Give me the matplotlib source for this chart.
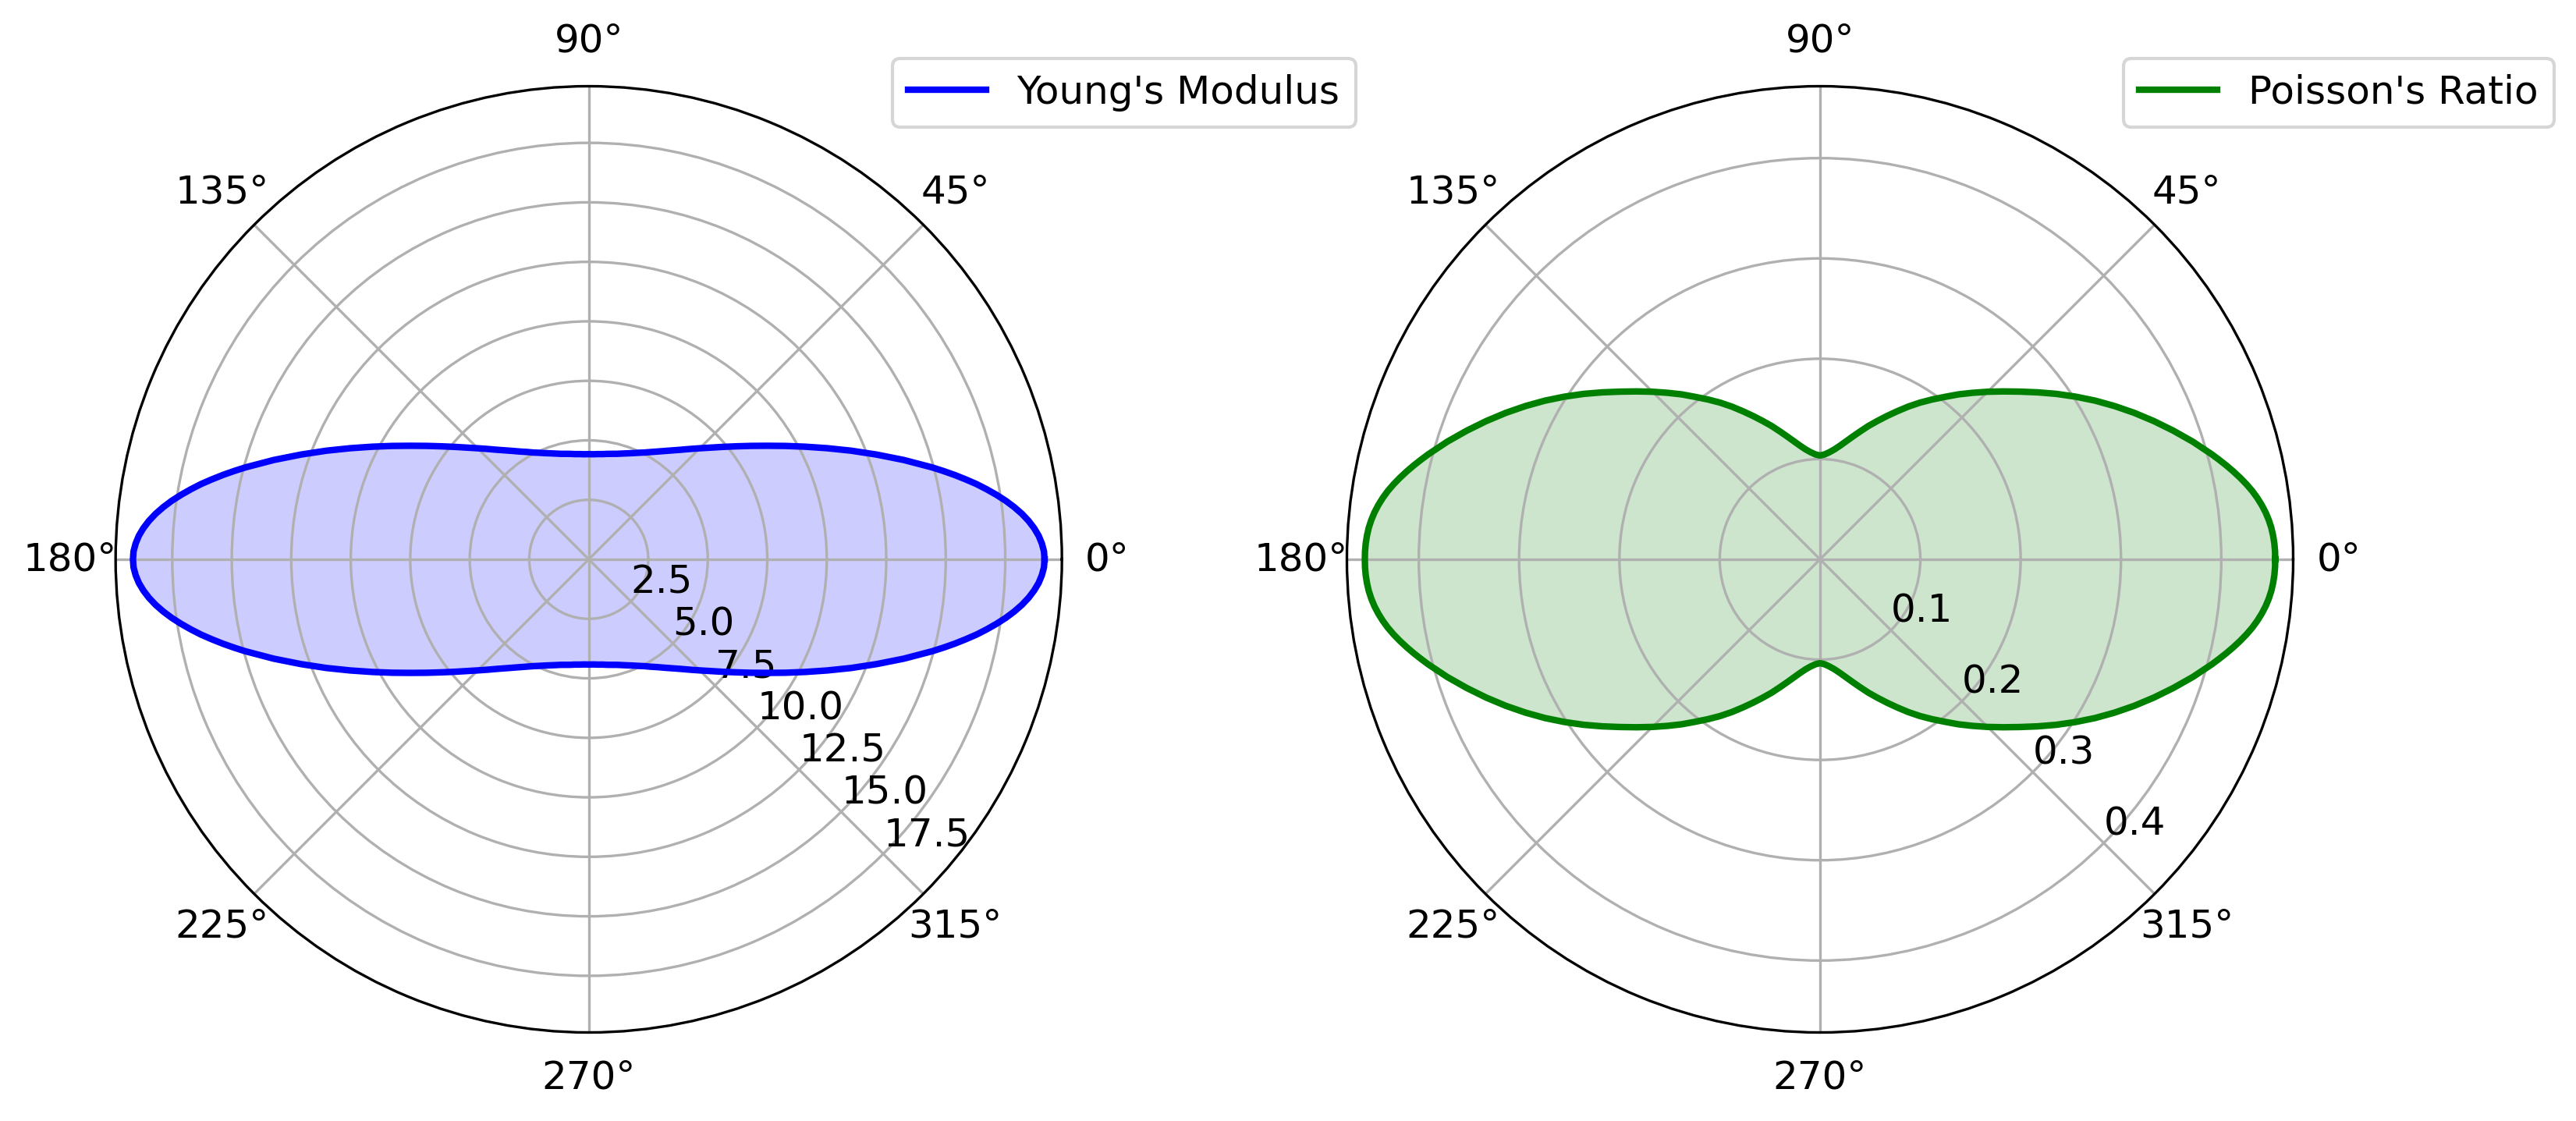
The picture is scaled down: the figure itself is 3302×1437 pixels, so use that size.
import numpy as np
import matplotlib
matplotlib.use("Agg")
import matplotlib.pyplot as plt

# angles of one quadrant (degrees), finer near the tip; the curves are
# symmetric about both axes
quad_angles = [0, 1, 2, 3, 4, 5, 6, 7, 8, 9, 10, 11, 12, 13, 14, 15,
               17.5, 20, 22.5, 25, 27.5, 30, 32.5, 35, 37.5, 40, 42.5, 45,
               47.5, 50, 52.5, 55, 57.5, 60, 62.5, 65, 67.5, 70, 72.5, 75,
               77.5, 80, 82.5, 85, 87.5, 90]

# Young's modulus
youngs_quad = [19.15, 19.13, 19.05, 18.93, 18.76, 18.55, 18.30, 18.01, 17.69,
               17.34, 16.97, 16.59, 16.18, 15.77, 15.35, 14.93,
               13.88, 12.87, 11.93, 11.05, 10.25, 9.53, 8.88, 8.31, 7.80,
               7.35, 6.95, 6.60, 6.29, 6.01, 5.77, 5.56, 5.37, 5.21, 5.06,
               4.94, 4.83, 4.74, 4.66, 4.59, 4.54, 4.50, 4.46, 4.44, 4.42, 4.42]

# Poisson's ratio
poisson_quad = [0.4538, 0.4537, 0.4532, 0.4523, 0.4510, 0.4491, 0.4467, 0.4437,
                0.4402, 0.4362, 0.4316, 0.4266, 0.4213, 0.4158, 0.4101, 0.4044,
                0.3898, 0.3749, 0.3602, 0.3456, 0.3310, 0.3165, 0.3019, 0.2876,
                0.2735, 0.2601, 0.2478, 0.2363, 0.2252, 0.2147, 0.2041, 0.1945,
                0.1852, 0.1758, 0.1664, 0.1576, 0.1493, 0.1416, 0.1339, 0.1269,
                0.1206, 0.1151, 0.1106, 0.1072, 0.1047, 0.1035]

youngs_ticks = [2.5, 5.0, 7.5, 10.0, 12.5, 15.0, 17.5]
poisson_ticks = [0.1, 0.2, 0.3, 0.4]


def full_circle(angles, values):
    # mirror the first quadrant into the other three
    a = np.asarray(angles, dtype=float)
    v = np.asarray(values, dtype=float)
    ang = np.concatenate([a, 180 - a[::-1][1:], 180 + a[1:], 360 - a[::-1][1:]])
    val = np.concatenate([v, v[::-1][1:], v[1:], v[::-1][1:]])
    return np.deg2rad(ang), val


plt.rcParams['font.size'] = 12

fig = plt.figure(figsize=(3302 / 300, 1437 / 300), dpi=300)
ax1 = fig.add_axes([0.04488, 0.07898, 0.36735, 0.84412], projection='polar')
ax2 = fig.add_axes([0.52286, 0.07898, 0.36735, 0.84412], projection='polar')

# Young's modulus
theta, r = full_circle(quad_angles, youngs_quad)
ax1.plot(theta, r, color='blue', linewidth=2, label="Young's Modulus")
ax1.fill(theta, r, color='blue', alpha=0.2)
ax1.set_ylim(0, 19.88)
ax1.set_yticks(youngs_ticks)
ax1.set_rlabel_position(-45)
ax1.legend(loc='upper left', bbox_to_anchor=(0.8, 1.05))

# Poisson's ratio
theta, r = full_circle(quad_angles, poisson_quad)
ax2.plot(theta, r, color='green', linewidth=2, label="Poisson's Ratio")
ax2.fill(theta, r, color='green', alpha=0.2)
ax2.set_ylim(0, 0.4717)
ax2.set_yticks(poisson_ticks)
ax2.set_rlabel_position(-45)
ax2.legend(loc='upper left', bbox_to_anchor=(0.8, 1.05))

fig.savefig('out.png', dpi=300)
